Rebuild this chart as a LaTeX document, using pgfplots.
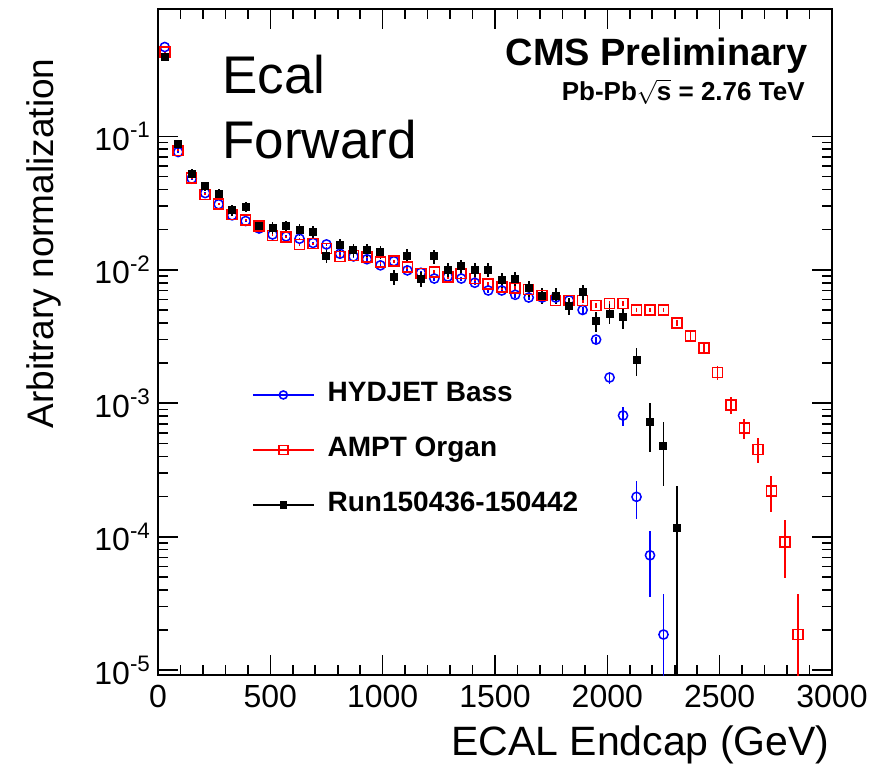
\documentclass[border=0pt]{standalone}
\usepackage{pgfplots}
\pgfplotsset{compat=1.18}
\usepackage{pgfplotstable}
\usepackage{fontspec}
\setmainfont{Liberation Sans}

\pgfplotstableread{
x y ep em
30 0.467 0.007 0.007
90 0.0763 0.0012 0.0012
150 0.0482 0.0007 0.0007
210 0.0376 0.0006 0.0006
270 0.031 0.0005 0.0005
330 0.0256 0.0004 0.0004
390 0.0232 0.0004 0.0004
450 0.0204 0.0003 0.0003
510 0.0184 0.0003 0.0003
570 0.0178 0.0003 0.0003
630 0.0171 0.0003 0.0003
690 0.0159 0.0003 0.0003
750 0.0155 0.0003 0.0003
810 0.0132 0.0003 0.0003
870 0.0126 0.0003 0.0003
930 0.0120 0.0003 0.0003
990 0.0108 0.0003 0.0003
1050 0.0116 0.0003 0.0003
1110 0.0099 0.0003 0.0003
1170 0.0095 0.0003 0.0003
1230 0.0086 0.0003 0.0003
1290 0.0089 0.0003 0.0003
1350 0.0086 0.0003 0.0003
1410 0.0080 0.0003 0.0003
1470 0.0070 0.0003 0.0003
1530 0.0070 0.0003 0.0003
1590 0.0065 0.0003 0.0003
1650 0.0062 0.0003 0.0003
1710 0.0062 0.0003 0.0003
1770 0.0062 0.0003 0.0003
1830 0.0059 0.0003 0.0003
1890 0.0050 0.0003 0.0003
1950 0.0030 0.00015 0.00015
2010 0.00156 0.00017 0.00017
2070 0.00081 0.00013 0.00013
2130 0.000199 0.000063 0.000063
2190 0.0000726 0.000037 0.000037
2250 0.0000185 0.000019 0.0000184
}\hydjet

\pgfplotstableread{
x y ep em
30 0.428 0.006 0.006
90 0.0786 0.0012 0.0012
150 0.049 0.0007 0.0007
210 0.0368 0.0006 0.0006
270 0.031 0.0005 0.0005
330 0.026 0.0004 0.0004
390 0.0235 0.0004 0.0004
450 0.0212 0.0003 0.0003
510 0.0181 0.0003 0.0003
570 0.0177 0.0003 0.0003
630 0.0155 0.0003 0.0003
690 0.0157 0.0003 0.0003
750 0.0144 0.0003 0.0003
810 0.0126 0.0003 0.0003
870 0.0128 0.0003 0.0003
930 0.0125 0.0003 0.0003
990 0.0114 0.0003 0.0003
1050 0.0116 0.0003 0.0003
1110 0.0105 0.0003 0.0003
1170 0.0094 0.0003 0.0003
1230 0.0096 0.0003 0.0003
1290 0.0088 0.0003 0.0003
1350 0.0094 0.0003 0.0003
1410 0.0086 0.0003 0.0003
1470 0.0078 0.0003 0.0003
1530 0.0074 0.0003 0.0003
1590 0.0073 0.0003 0.0003
1650 0.0071 0.0003 0.0003
1710 0.0064 0.0003 0.0003
1770 0.0059 0.0003 0.0003
1830 0.0059 0.0003 0.0003
1890 0.0059 0.0003 0.0003
1950 0.0054 0.0002 0.0002
2010 0.0056 0.0002 0.0002
2070 0.0056 0.0002 0.0002
2130 0.0050 0.0002 0.0002
2190 0.0050 0.0002 0.0002
2250 0.0050 0.0002 0.0002
2310 0.0040 0.0002 0.0002
2370 0.0032 0.0002 0.0002
2430 0.0026 0.00023 0.00023
2490 0.0017 0.0002 0.0002
2550 0.00097 0.00014 0.00014
2610 0.00065 0.00011 0.00011
2670 0.00045 0.000095 0.000095
2730 0.00022 0.000066 0.000066
2790 0.0000914 0.000042 0.000042
2850 0.0000185 0.000019 0.0000184
}\ampt

\pgfplotstableread{
x y ep em
30 0.393 0.02 0.02
90 0.0871 0.006 0.006
150 0.0525 0.004 0.004
210 0.0422 0.0035 0.0035
270 0.0373 0.003 0.003
330 0.0279 0.0025 0.0025
390 0.0295 0.0026 0.0026
450 0.0212 0.002 0.002
510 0.0207 0.002 0.002
570 0.0212 0.002 0.002
630 0.0200 0.002 0.002
690 0.0192 0.002 0.002
750 0.0128 0.0015 0.0015
810 0.0153 0.0017 0.0017
870 0.0140 0.0016 0.0016
930 0.0141 0.0016 0.0016
990 0.0136 0.0016 0.0016
1050 0.0088 0.0011 0.0011
1110 0.0128 0.0015 0.0015
1170 0.0085 0.0011 0.0011
1230 0.0126 0.0015 0.0015
1290 0.0100 0.0012 0.0012
1350 0.0106 0.0013 0.0013
1410 0.0100 0.0012 0.0012
1470 0.0100 0.0012 0.0012
1530 0.0084 0.0011 0.0011
1590 0.0086 0.0011 0.0011
1650 0.0073 0.001 0.001
1710 0.0064 0.0009 0.0009
1770 0.0064 0.0009 0.0009
1830 0.0054 0.0008 0.0008
1890 0.0068 0.0009 0.0009
1950 0.0041 0.0007 0.0007
2010 0.0047 0.0008 0.0008
2070 0.0044 0.0008 0.0008
2130 0.0021 0.0005 0.0005
2190 0.00072 0.00029 0.00029
2250 0.00048 0.00024 0.00024
2310 0.000117 0.000122 0.0001169
}\run

\begin{document}
\begin{tikzpicture}
\useasboundingbox (0,0) rectangle (442pt,384pt);
\begin{axis}[
  at={(79pt,46.5pt)}, anchor=south west,
  scale only axis, width=337pt, height=333pt,
  xmin=0, xmax=3000, ymode=log, ymin=9.2e-6, ymax=0.9,
  xtick={0,500,1000,1500,2000,2500,3000},
  xticklabels={0,500,1000,1500,2000,2500,3000},
  minor x tick num=4,
  ytick={1e-5,1e-4,1e-3,1e-2,1e-1},
  yticklabels={10\textsuperscript{-5},10\textsuperscript{-4},10\textsuperscript{-3},10\textsuperscript{-2},10\textsuperscript{-1}},
  tick align=inside,
  major tick length=10pt, minor tick length=5pt,
  every tick/.style={black, line width=0.8pt},
  axis line style={line width=1pt},
  ticklabel style={font=\fontsize{16}{19}\selectfont},
  xticklabel style={yshift=-1.5pt},
  legend style={at={(0.1395,0.440)}, anchor=north west, draw=none, fill=none,
    inner sep=0pt, outer sep=0pt, row sep=14.5pt, column sep=6.5pt,
    nodes={inner sep=0pt, text height=10pt, text depth=3pt},
    font=\fontsize{14}{17}\selectfont\bfseries},
  legend cell align=left,
  legend image code/.code={\draw[mark repeat=2,mark phase=2,#1] plot coordinates {(0pt,0pt) (15.25pt,0pt) (30.5pt,0pt)};},
]
\addlegendimage{blue, line width=0.8pt, mark=o, mark size=2pt}
\addlegendentry{HYDJET Bass}
\addlegendimage{red, line width=0.8pt, mark=square, mark size=2.2pt}
\addlegendentry{AMPT Organ}
\addlegendimage{black, line width=0.8pt, mark=square*, mark size=1.5pt}
\addlegendentry{Run150436-150442}

\addplot[forget plot, blue, only marks, mark=o, mark size=2.3pt, line width=0.75pt,
  error bars/.cd, y dir=both, y explicit, error mark=none,
  error bar style={line width=0.9pt, blue}]
  table[x=x, y=y, y error plus=ep, y error minus=em] {\hydjet};
\addplot[forget plot, red, only marks, mark=square, mark size=2.5pt, line width=0.8pt,
  error bars/.cd, y dir=both, y explicit, error mark=none,
  error bar style={line width=0.9pt, red}]
  table[x=x, y=y, y error plus=ep, y error minus=em] {\ampt};
\addplot[forget plot, black, only marks, mark=square*, mark size=1.7pt, line width=0.6pt,
  error bars/.cd, y dir=both, y explicit, error mark=none,
  error bar style={line width=0.9pt, black}]
  table[x=x, y=y, y error plus=ep, y error minus=em] {\run};
\end{axis}

\node[anchor=base west, inner sep=0pt, font=\fontsize{26.5}{30}\selectfont] at (111pt,337.5pt) {Ecal};
\node[anchor=base west, inner sep=0pt, font=\fontsize{26.5}{30}\selectfont] at (111pt,305pt) {Forward};
\node[anchor=base east, inner sep=0pt, font=\fontsize{19}{22}\selectfont\bfseries] at (404pt,351.5pt) {CMS Preliminary};
\node[anchor=base east, inner sep=0pt, font=\fontsize{13}{16}\selectfont\bfseries] at (402.5pt,334pt) {Pb-Pb\smash{$\sqrt{\mbox{s}}$} = 2.76 TeV};
\node[anchor=base east, inner sep=0pt, font=\fontsize{20.5}{24}\selectfont] at (415pt,6.5pt) {ECAL Endcap (GeV)};
\node[rotate=90, anchor=base east, inner sep=0pt, font=\fontsize{18.5}{22}\selectfont] at (26.7pt,355pt) {Arbitrary normalization};
\end{tikzpicture}
\end{document}
